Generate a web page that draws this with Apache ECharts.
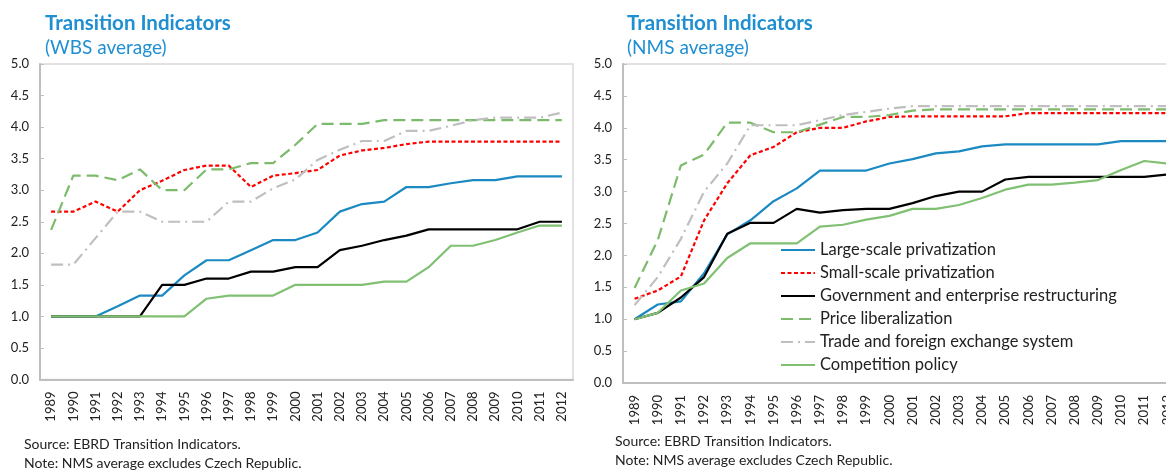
<!DOCTYPE html>
<html>
<head>
<meta charset="utf-8">
<title>Transition Indicators</title>
<script src="https://cdn.jsdelivr.net/npm/echarts@6.0.0/dist/echarts.min.js"></script>
<style>
  html, body { margin: 0; padding: 0; background: #fff; }
  #main { width: 1166px; height: 470px; }
</style>
</head>
<body>
<div id="main"></div>
<script>
// years on the x axis
var years = ['1989','1990','1991','1992','1993','1994','1995','1996','1997','1998','1999','2000',
             '2001','2002','2003','2004','2005','2006','2007','2008','2009','2010','2011','2012'];

var names = ['Large-scale privatization', 'Small-scale privatization',
             'Government and enterprise restructuring', 'Price liberalization',
             'Trade and foreign exchange system', 'Competition policy'];

// WBS average (left)
var wbsLarge = [1.0,1.0,1.0,1.16,1.33,1.33,1.65,1.89,1.89,2.05,2.21,2.21,2.33,2.66,2.78,2.82,3.05,3.05,3.11,3.16,3.16,3.22,3.22,3.22];
var wbsSmall = [2.66,2.66,2.82,2.66,3.0,3.15,3.32,3.39,3.39,3.05,3.23,3.27,3.32,3.55,3.63,3.67,3.73,3.77,3.77,3.77,3.77,3.77,3.77,3.77];
var wbsGov   = [1.0,1.0,1.0,1.0,1.0,1.5,1.5,1.6,1.6,1.71,1.71,1.78,1.78,2.05,2.12,2.21,2.28,2.38,2.38,2.38,2.38,2.38,2.5,2.5];
var wbsPrice = [2.37,3.23,3.23,3.16,3.33,3.0,3.0,3.33,3.33,3.43,3.43,3.72,4.05,4.05,4.05,4.11,4.11,4.11,4.11,4.11,4.11,4.11,4.11,4.11];
var wbsTrade = [1.82,1.82,2.24,2.66,2.66,2.5,2.5,2.5,2.82,2.82,3.03,3.17,3.48,3.64,3.78,3.78,3.94,3.94,4.02,4.11,4.15,4.15,4.15,4.23];
var wbsComp  = [1.0,1.0,1.0,1.0,1.0,1.0,1.0,1.28,1.33,1.33,1.33,1.5,1.5,1.5,1.5,1.55,1.55,1.78,2.12,2.12,2.21,2.33,2.44,2.44];

// NMS average (right)
var nmsLarge = [1.0,1.23,1.28,1.72,2.33,2.55,2.85,3.05,3.33,3.33,3.33,3.44,3.51,3.6,3.63,3.71,3.74,3.74,3.74,3.74,3.74,3.79,3.79,3.79];
var nmsSmall = [1.32,1.45,1.67,2.55,3.13,3.57,3.7,3.93,4.0,4.0,4.1,4.17,4.18,4.18,4.18,4.18,4.18,4.23,4.23,4.23,4.23,4.23,4.23,4.23];
var nmsGov   = [1.0,1.1,1.34,1.66,2.34,2.51,2.51,2.73,2.67,2.71,2.73,2.73,2.82,2.93,3.0,3.0,3.19,3.23,3.23,3.23,3.23,3.23,3.23,3.27];
var nmsPrice = [1.49,2.24,3.41,3.58,4.08,4.08,3.93,3.93,4.05,4.17,4.17,4.2,4.27,4.29,4.29,4.29,4.29,4.29,4.29,4.29,4.29,4.29,4.29,4.29];
var nmsTrade = [1.22,1.66,2.26,3.0,3.44,4.04,4.04,4.04,4.12,4.2,4.25,4.3,4.34,4.34,4.34,4.34,4.34,4.34,4.34,4.34,4.34,4.34,4.34,4.34];
var nmsComp  = [1.0,1.1,1.45,1.56,1.96,2.19,2.19,2.19,2.45,2.48,2.56,2.62,2.73,2.73,2.79,2.9,3.03,3.11,3.11,3.14,3.18,3.34,3.48,3.44];

var FONT = 'Lato';
var TITLE_BLUE = '#1f8fd2';
var AXIS_GREY = '#bfbfbf';

// line looks, same order as names
var looks = [
    { color: '#1b8ac2', type: 'solid' },
    { color: '#ff0000', type: [4, 2.5] },
    { color: '#000000', type: 'solid' },
    { color: '#7dbb6c', type: [12, 6] },
    { color: '#bfbfbf', type: [12, 5, 2, 5] },
    { color: '#80c072', type: 'solid' }
];

var wbsData = [wbsLarge, wbsSmall, wbsGov, wbsPrice, wbsTrade, wbsComp];
var nmsData = [nmsLarge, nmsSmall, nmsGov, nmsPrice, nmsTrade, nmsComp];

function makeXAxis(idx) {
    return {
        type: 'category', gridIndex: idx, data: years, boundaryGap: true,
        axisLine: { lineStyle: { color: AXIS_GREY, width: 2 } },
        axisTick: { inside: true, length: 5, lineStyle: { color: AXIS_GREY } },
        axisLabel: { rotate: 90, interval: 0, fontSize: 13, color: '#222', margin: 12, fontFamily: FONT }
    };
}
function makeYAxis(idx) {
    return {
        type: 'value', gridIndex: idx, min: 0, max: 5, interval: 0.5,
        axisLine: { show: true, lineStyle: { color: AXIS_GREY, width: 2 } },
        axisTick: { show: true, inside: true, length: 4, lineStyle: { color: AXIS_GREY } },
        splitLine: { show: false },
        axisLabel: { fontSize: 13, color: '#222', margin: 11, fontFamily: FONT,
            formatter: function (v) { return v.toFixed(1); } }
    };
}

var series = [];
[wbsData, nmsData].forEach(function (set, g) {
    set.forEach(function (vals, i) {
        series.push({
            name: names[i], type: 'line', xAxisIndex: g, yAxisIndex: g,
            symbol: 'none', data: vals,
            lineStyle: { color: looks[i].color, type: looks[i].type, width: 2.2 },
            itemStyle: { color: looks[i].color }
        });
    });
});

function txt(x, y, s, size, color, weight) {
    return { type: 'text', x: x, y: y, silent: true,
        style: { text: s, fill: color, font: (weight || 'normal') + ' ' + size + 'px ' + FONT, verticalAlign: 'middle' } };
}

var chart = echarts.init(document.getElementById('main'));
chart.setOption({
    animation: false,
    textStyle: { fontFamily: FONT },
    grid: [
        { left: 40, top: 64, width: 533, height: 315.5, show: true, borderColor: '#d9d9d9', borderWidth: 1.5,
          outerBoundsMode: 'none' },
        { left: 623, top: 64, width: 556, height: 319, show: true, borderColor: '#d9d9d9', borderWidth: 1.5,
          outerBoundsMode: 'none' }
    ],
    xAxis: [makeXAxis(0), makeXAxis(1)],
    yAxis: [makeYAxis(0), makeYAxis(1)],
    legend: {
        orient: 'vertical', left: 780, top: 241.5, padding: 0,
        itemWidth: 34, itemHeight: 12, itemGap: 6,
        itemStyle: { opacity: 0 },
        textStyle: { fontSize: 16.5, color: '#222', fontFamily: FONT, padding: [0, 0, 0, 0] },
        data: names
    },
    graphic: [
        txt(45, 23, 'Transition Indicators', 20.5, TITLE_BLUE, 'bold'),
        txt(45, 48, '(WBS average)', 19, TITLE_BLUE),
        txt(627, 23, 'Transition Indicators', 20.5, TITLE_BLUE, 'bold'),
        txt(627, 48, '(NMS average)', 19, TITLE_BLUE),
        txt(24, 444, 'Source: EBRD Transition Indicators.', 14, '#222'),
        txt(24, 463, 'Note: NMS average excludes Czech Republic.', 14, '#222'),
        txt(615, 441, 'Source: EBRD Transition Indicators.', 14, '#222'),
        txt(615, 460, 'Note: NMS average excludes Czech Republic.', 14, '#222')
    ],
    series: series
});
</script>
</body>
</html>
